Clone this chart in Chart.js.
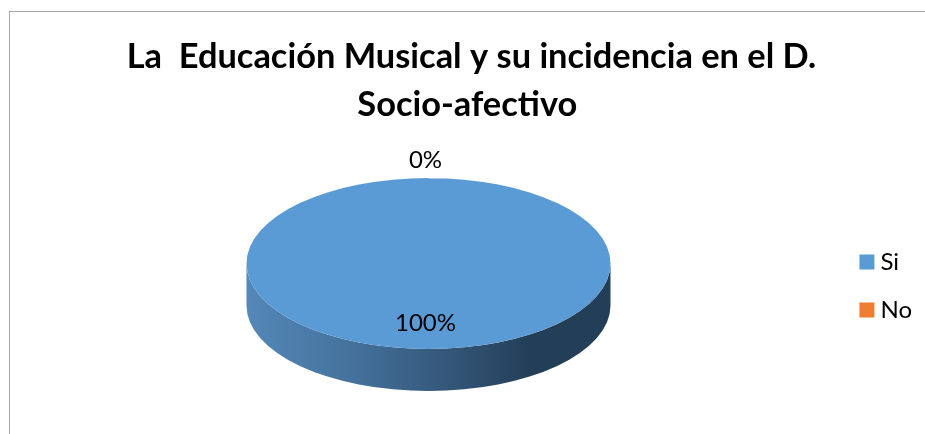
<!DOCTYPE html>
<html lang="en">
  <head>
    <meta charset="UTF-8" />
    <title>La Educación Musical</title>
    <script src="https://cdn.jsdelivr.net/npm/chart.js"></script>
    <style>
      body {
        margin: 0;
        background: #fff;
        overflow: hidden;
      }
      .wrap {
        position: relative;
        width: 925px;
        height: 434px;
      }
      .frame {
        position: absolute;
        left: 9px;
        top: 11px;
        width: 1000px;
        height: 500px;
        border: 1px solid #a6a6a6;
      }
      canvas {
        position: absolute;
        left: 0;
        top: 0;
      }
    </style>
  </head>
  <body>
    <div class="wrap">
      <div class="frame"></div>
      <canvas id="pie" width="925" height="434"></canvas>
    </div>

    <script>
      const categories = ["Si", "No"];
      const values = [100, 0];
      const sliceColors = ["#5B9BD5", "#ED7D31"];
      // trailing space nudges the second line left, it sits off centre in the original
      const titleLines = ["La  Educación Musical y su incidencia en el D.", "Socio-afectivo "];

      // where the squashed pie ends up on the page
      const pieX = 428.5;
      const pieY = 263.5;
      const pieRadius = 182;
      const tilt = 85.5 / 182;
      const depth = 42;

      const fontName = "Lato, 'Open Sans', sans-serif";

      const tiltPlugin = {
        id: "tilt",
        beforeDatasetDraw(chart, args) {
          const ctx = chart.ctx;
          const arc = args.meta.data[0];
          const rx = arc.outerRadius;
          const ry = rx * tilt;

          // side wall of the disc
          const wall = ctx.createLinearGradient(pieX - rx, 0, pieX + rx, 0);
          wall.addColorStop(0, "#5488b8");
          wall.addColorStop(0.3, "#44719b");
          wall.addColorStop(0.55, "#34577a");
          wall.addColorStop(0.78, "#233f57");
          wall.addColorStop(1, "#233f57");
          ctx.save();
          ctx.fillStyle = wall;
          ctx.beginPath();
          ctx.ellipse(pieX, pieY, rx, ry, 0, Math.PI, 0, true);
          ctx.lineTo(pieX + rx, pieY + depth);
          ctx.ellipse(pieX, pieY + depth, rx, ry, 0, 0, Math.PI);
          ctx.closePath();
          ctx.fill();
          ctx.restore();

          ctx.save();
          ctx.translate(pieX, pieY);
          ctx.scale(1, tilt);
          ctx.translate(-arc.x, -arc.y);
        },
        afterDatasetDraw(chart) {
          chart.ctx.restore();
        },
        afterDraw(chart) {
          const ctx = chart.ctx;
          const arcs = chart.getDatasetMeta(0).data;
          const total = values.reduce((a, b) => a + b, 0);
          ctx.save();
          ctx.fillStyle = "#000";
          ctx.font = "24px " + fontName;
          ctx.textAlign = "center";
          ctx.textBaseline = "middle";
          arcs.forEach((arc, i) => {
            const mid = (arc.startAngle + arc.endAngle) / 2;
            // a slice with no size gets its label outside the disc
            const k = values[i] === 0 ? 1.21 : 0.7;
            const x = pieX - 3 + Math.cos(mid) * arc.outerRadius * k;
            const y = pieY + Math.sin(mid) * arc.outerRadius * tilt * k;
            ctx.fillText(Math.round((values[i] / total) * 100) + "%", x, y);
          });
          ctx.restore();
        },
      };

      new Chart(document.getElementById("pie").getContext("2d"), {
        type: "pie",
        data: {
          labels: categories,
          datasets: [
            {
              data: values,
              backgroundColor: sliceColors,
              borderWidth: 0,
              radius: pieRadius,
            },
          ],
        },
        options: {
          responsive: false,
          animation: false,
          layout: { padding: { left: 21, right: 3, top: 0, bottom: 0 } },
          plugins: {
            title: {
              display: true,
              text: titleLines,
              color: "#000",
              font: { family: fontName, size: 34.4, weight: "bold", lineHeight: 1.395 },
              padding: { top: 33, bottom: 9 },
            },
            legend: {
              position: "right",
              fullSize: false,
              labels: {
                color: "#000",
                font: { family: fontName, size: 24 },
                // thin box plus thick stroke keeps the text close to the swatch
                boxWidth: 3,
                boxHeight: 3,
                padding: 24,
                generateLabels(chart) {
                  return Chart.overrides.pie.plugins.legend.labels
                    .generateLabels(chart)
                    .map((item) => ({ ...item, strokeStyle: item.fillStyle, lineWidth: 12 }));
                },
              },
            },
            tooltip: { enabled: false },
          },
        },
        plugins: [tiltPlugin],
      });
    </script>
  </body>
</html>
